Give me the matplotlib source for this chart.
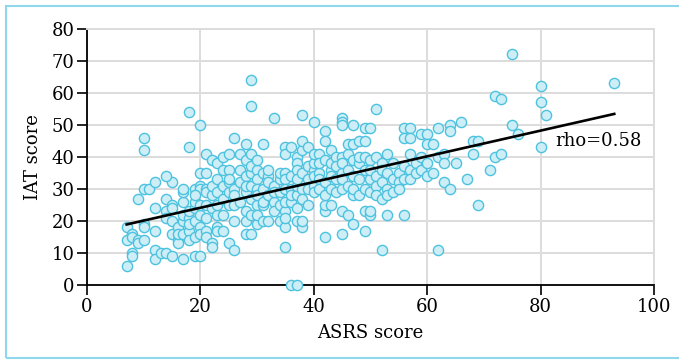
import numpy as np
import matplotlib.pyplot as plt
from matplotlib.patches import Rectangle

# scatter data as (ASRS, IAT) pairs
points = [
    (7, 6), (7, 14), (7, 18), (8, 16), (8, 15), (9, 14), (9, 13), (8, 10), (8, 9),
    (10, 14), (10, 19), (10, 18), (9, 27), (10, 30), (11, 30), (12, 32), (10, 46), (10, 42),
    (12, 24), (12, 17), (12, 11), (12, 8), (13, 10), (14, 10), (15, 9), (14, 27), (14, 23),
    (14, 21), (15, 25), (15, 24), (15, 20), (15, 16), (15, 32), (14, 34),
    (16, 14), (16, 13), (16, 18), (16, 16), (17, 8), (17, 16), (17, 20), (17, 22), (17, 26),
    (17, 29), (17, 30), (18, 54), (18, 43), (18, 17), (18, 14), (18, 21), (18, 23), (18, 19),
    (19, 9), (19, 15), (19, 20), (19, 24), (19, 30), (19, 26), (20, 9), (20, 50), (20, 35),
    (20, 31), (20, 30), (20, 22), (20, 25), (20, 18), (20, 16), (19, 28),
    (21, 41), (21, 17), (21, 15), (21, 21), (21, 25), (21, 30), (21, 29), (21, 35), (22, 39),
    (22, 13), (22, 12), (22, 24), (22, 28), (22, 31), (23, 38), (23, 18), (23, 17), (23, 22),
    (23, 25), (23, 33), (23, 29), (24, 40), (24, 17), (24, 22), (24, 36), (24, 31), (24, 27),
    (25, 41), (25, 13), (25, 36), (25, 25), (25, 29), (25, 32), (25, 33),
    (26, 46), (26, 11), (26, 20), (26, 25), (26, 30), (26, 28), (27, 41), (27, 36), (27, 32),
    (27, 26), (28, 44), (28, 39), (28, 23), (28, 20), (28, 16), (28, 29), (28, 34), (28, 31),
    (29, 64), (29, 56), (29, 41), (29, 16), (29, 22), (29, 35), (29, 31), (29, 27), (29, 37),
    (30, 36), (30, 19), (30, 25), (30, 33), (30, 30), (30, 28), (30, 22), (30, 39),
    (31, 44), (31, 20), (31, 35), (31, 30), (31, 25), (31, 26), (32, 34), (32, 20), (32, 32),
    (32, 28), (32, 36), (33, 52), (33, 26), (33, 23), (33, 31), (33, 29), (34, 25), (34, 20),
    (34, 33), (34, 29), (34, 35), (35, 43), (35, 41), (35, 12), (35, 18), (35, 23), (35, 21),
    (35, 35), (35, 33), (35, 30), (35, 26), (36, 0), (37, 0),
    (36, 43), (36, 34), (36, 26), (36, 30), (36, 28), (37, 40), (37, 38), (37, 36), (37, 24),
    (37, 28), (37, 20), (37, 31), (37, 33), (38, 53), (38, 42), (38, 45), (38, 18), (38, 20),
    (38, 35), (38, 30), (38, 27), (39, 43), (39, 25), (39, 33), (39, 37), (39, 30), (40, 51),
    (40, 36), (40, 31), (40, 29), (40, 38), (40, 41), (40, 34),
    (41, 41), (41, 35), (41, 33), (41, 30), (41, 38), (42, 48), (42, 45), (42, 15), (42, 23),
    (42, 25), (42, 28), (42, 32), (42, 39), (43, 42), (43, 25), (43, 36), (43, 34), (43, 38),
    (43, 30), (44, 40), (44, 29), (44, 33), (44, 37), (45, 52), (45, 51), (45, 50), (45, 16),
    (45, 23), (45, 35), (45, 40), (45, 30), (45, 38), (45, 33),
    (46, 22), (46, 41), (46, 44), (46, 36), (46, 31), (47, 50), (47, 19), (47, 44), (47, 39),
    (47, 34), (47, 28), (47, 30), (48, 45), (48, 33), (48, 38), (48, 28), (48, 40), (49, 49),
    (49, 45), (49, 17), (49, 23), (49, 40), (49, 36), (49, 30), (50, 49), (50, 22), (50, 23),
    (50, 39), (50, 33), (50, 29), (50, 36),
    (51, 55), (51, 40), (51, 34), (51, 31), (51, 28), (52, 11), (52, 38), (52, 36), (52, 32),
    (52, 27), (53, 22), (53, 41), (53, 35), (53, 30), (53, 28), (54, 38), (54, 33), (54, 29),
    (55, 35), (55, 32), (55, 30),
    (56, 49), (56, 46), (56, 22), (56, 37), (56, 33), (57, 49), (57, 46), (57, 41), (57, 36),
    (57, 33), (58, 38), (58, 35), (59, 47), (59, 40), (59, 36), (60, 47), (60, 38), (60, 44),
    (60, 34),
    (61, 44), (61, 35), (62, 49), (62, 40), (62, 11), (63, 41), (63, 38), (63, 32), (64, 50),
    (64, 48), (64, 30), (65, 38), (66, 51), (67, 33), (68, 45), (68, 41), (69, 45), (69, 25),
    (71, 36), (72, 59), (72, 40), (73, 58), (73, 41), (75, 72), (75, 50), (76, 47), (80, 62),
    (80, 57), (80, 43), (81, 53), (93, 63),
]
asrs = [p[0] for p in points]
iat = [p[1] for p in points]

# fitted line end points
line_x = [7, 93]
line_y = [18.9, 53.4]
rho_label = "rho=0.58"

x_ticks = [0, 20, 40, 60, 80, 100]
y_ticks = [0, 10, 20, 30, 40, 50, 60, 70, 80]

plt.rcParams['font.family'] = ['DejaVu Serif']

fig = plt.figure(figsize=(6.79, 3.6), dpi=100)
ax = fig.add_axes([0.1281, 0.2083, 0.835, 0.712])

ax.scatter(asrs, iat, s=54, facecolor='#cdeef6', edgecolor='#4dc2df',
           linewidth=1.0, zorder=3, clip_on=False)
ax.plot(line_x, line_y, color='black', linewidth=1.9, zorder=4)
ax.text(82.6, 43.5, rho_label, fontsize=13, va='baseline', ha='left', zorder=5)

ax.set_xlim(0, 100)
ax.set_ylim(0, 80)
ax.set_xticks(x_ticks)
ax.set_yticks(y_ticks)
ax.grid(True, color='#dcdcdc', linewidth=1.4, zorder=0)
ax.set_axisbelow(True)

for side in ['top', 'right']:
    ax.spines[side].set_color('#dcdcdc')
    ax.spines[side].set_linewidth(1.4)
for side in ['left', 'bottom']:
    ax.spines[side].set_color('black')
    ax.spines[side].set_linewidth(1.3)

ax.tick_params(axis='both', length=7, width=1.2, labelsize=13, pad=2)
ax.set_xlabel('ASRS score', fontsize=13, labelpad=6)
ax.set_ylabel('IAT score', fontsize=13, labelpad=7)

# light frame around the figure
fig.patches.append(Rectangle((6 / 679, 2 / 360), 1.0, 352 / 360, transform=fig.transFigure,
                             fill=False, edgecolor='#8ed8ec', linewidth=1.5))

fig.savefig('out.png', dpi=100)
